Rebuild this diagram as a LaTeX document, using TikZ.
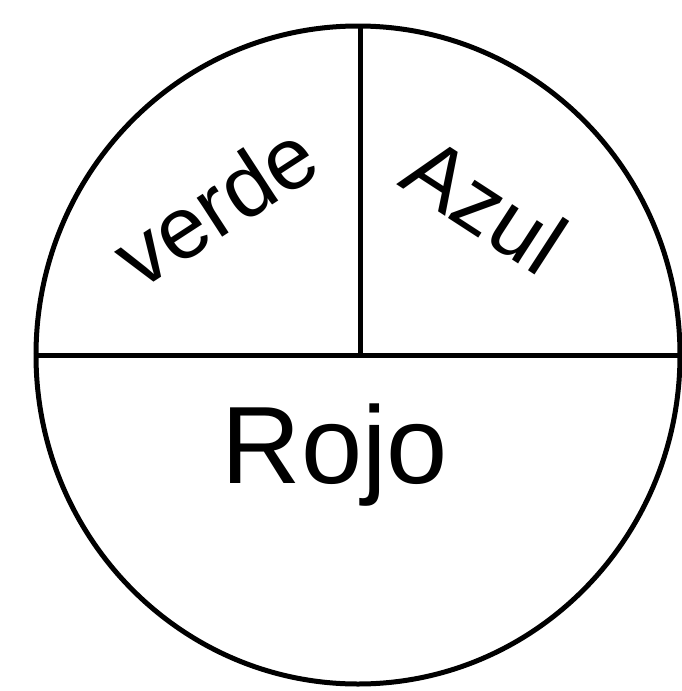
\documentclass[tikz,border=0pt]{standalone}
\usepackage{fontspec}
\setmainfont{Liberation Sans}
\usetikzlibrary{shapes.geometric}
\begin{document}
\begin{tikzpicture}[x=1pt,y=-1pt,
  ink/.style={line width=5pt,black},
  hand/.style={font=\fontsize{#1}{#1}\selectfont, inner sep=0pt}]
\useasboundingbox (0,0) rectangle (682,691);
\node[ellipse, draw, ink, minimum width=644pt, minimum height=658pt, inner sep=0pt] (c) at (358,355) {};
\draw[ink] (c.west) -- (c.east);
\coordinate (top) at (360,27);
\coordinate (mid) at (360,355);
\draw[ink] (top) -- (mid);
\node[hand=88, rotate=33] (verde) at (215,205) {verde};
\node[hand=88, rotate=-33] (azul) at (485,205) {Azul};
\node[hand=110] (rojo) at (335,455) {Rojo};
\end{tikzpicture}
\end{document}
